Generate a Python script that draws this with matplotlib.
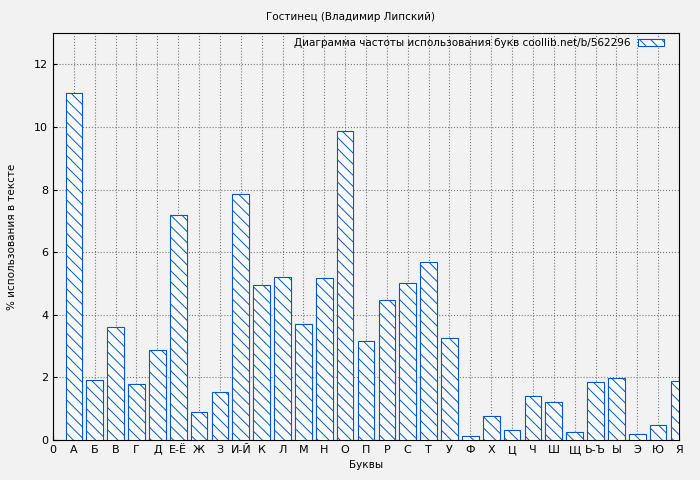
import matplotlib
matplotlib.use("Agg")
import matplotlib.pyplot as plt

letters = ["А","Б","В","Г","Д","Е-Ё","Ж","З","И-Й","К","Л","М","Н","О","П","Р","С","Т","У","Ф","Х","Ц","Ч","Ш","Щ","Ь-Ъ","Ы","Э","Ю","Я"]
values = [11.08,1.91,3.6,1.78,2.87,7.2,0.89,1.53,7.87,4.94,5.22,3.69,5.19,9.87,3.15,4.46,5.03,5.67,3.25,0.13,0.76,0.32,1.4,1.21,0.25,1.85,1.97,0.19,0.48,1.88]
ticklabels = ["0"] + letters

plt.rcParams['hatch.color'] = '#0055cc'
plt.rcParams['hatch.linewidth'] = 0.7
fig = plt.figure(figsize=(7, 4.8), dpi=100, facecolor='#f2f2f2')
ax = fig.add_axes([53/700, 40/480, 626/700, 407/480])
ax.set_facecolor('#f2f2f2')
x = list(range(1, len(values)+1))
ax.bar(x, values, width=0.8, color='white', edgecolor='#0055cc', hatch='\\\\\\', linewidth=0.8,
       label='Диаграмма частоты использования букв coollib.net/b/562296', zorder=3)
ax.set_xlim(0, 30)
ax.set_ylim(0, 13)
ax.set_xticks(range(0, 31))
ax.set_xticklabels(ticklabels, fontsize=8)
ax.set_yticks(range(0, 13, 2))
ax.tick_params(labelsize=8, direction='in', length=3)
ax.grid(True, linestyle=':', color='#777777', linewidth=0.8, zorder=0)
ax.set_xlabel('Буквы', fontsize=7.5)
ax.set_ylabel('% использования в тексте', fontsize=7.5, labelpad=12)
fig.suptitle('Гостинец (Владимир Липский)', fontsize=7.5, y=0.975)
ax.legend(loc='upper right', fontsize=7.5, frameon=False, markerfirst=False, handlelength=2.5,
          borderaxespad=0.1, bbox_to_anchor=(0.985, 1.0))
fig.savefig('out.png', dpi=100, facecolor='#f2f2f2')
